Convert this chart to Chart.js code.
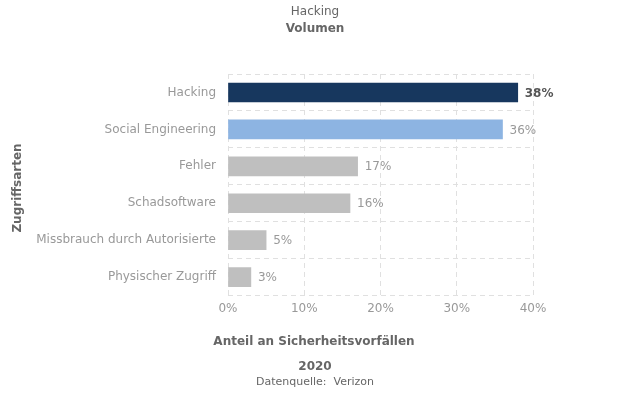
<!DOCTYPE html>
<html><head><meta charset="utf-8">
<script src="https://cdn.jsdelivr.net/npm/chart.js@4"></script>
<style>body{margin:0;background:#fff}#w{width:632px;height:408px}</style>
</head><body><div id="w"><canvas id="c"></canvas></div>
<script>
const categories=["Hacking","Social Engineering","Fehler","Schadsoftware","Missbrauch durch Autorisierte","Physischer Zugriff"];
const values=[38,36,17,16,5,3];
const colors=["#17375e","#8db4e2","#bfbfbf","#bfbfbf","#bfbfbf","#bfbfbf"];
const xTicks=[0,10,20,30,40];
const F="DejaVu Sans";
const txt={id:'txt',afterDraw(ch){const c=ch.ctx;c.save();c.textAlign='center';c.textBaseline='middle';
c.fillStyle='#666';c.font='12px '+F;c.fillText('Hacking',315,12);
c.font='bold 12px '+F;c.fillText('Volumen',315,29);
c.fillText('Anteil an Sicherheitsvorfällen',314,342);
c.fillText('2020',315,367);
c.font='11px '+F;c.fillText('Datenquelle:  Verizon',315,382);
c.save();c.translate(18,188);c.rotate(-Math.PI/2);c.font='bold 12px '+F;c.fillText('Zugriffsarten',0,0);c.restore();
const m=ch.getDatasetMeta(0);c.textAlign='left';
m.data.forEach((b,i)=>{c.font=(i==0?'bold ':'')+'12px '+F;c.fillStyle=i==0?'#555':'#999';c.fillText(values[i]+'%',b.x+7,b.y+1);});
c.restore();}};
new Chart(document.getElementById('c'),{type:'bar',data:{labels:categories,datasets:[{data:values,backgroundColor:colors,barThickness:19}]},
options:{indexAxis:'y',responsive:true,maintainAspectRatio:false,animation:false,
layout:{padding:{top:74,right:99,bottom:86,left:0}},
plugins:{legend:{display:false},tooltip:{enabled:false}},
scales:{x:{min:0,max:40,afterBuildTicks(s){s.ticks=xTicks.map(v=>({value:v}));},
ticks:{callback:v=>v+'%',color:'#999',font:{family:F,size:12},padding:6},
grid:{color:'#e0e0e0',drawTicks:false},border:{display:false,dash:[5,4]}},
y:{afterFit(s){s.width=228;},ticks:{color:'#999',font:{family:F,size:12},padding:12},
grid:{color:'#e0e0e0',drawTicks:false,offset:true},border:{display:false,dash:[5,4]}}}},
plugins:[txt]});
</script></body></html>
